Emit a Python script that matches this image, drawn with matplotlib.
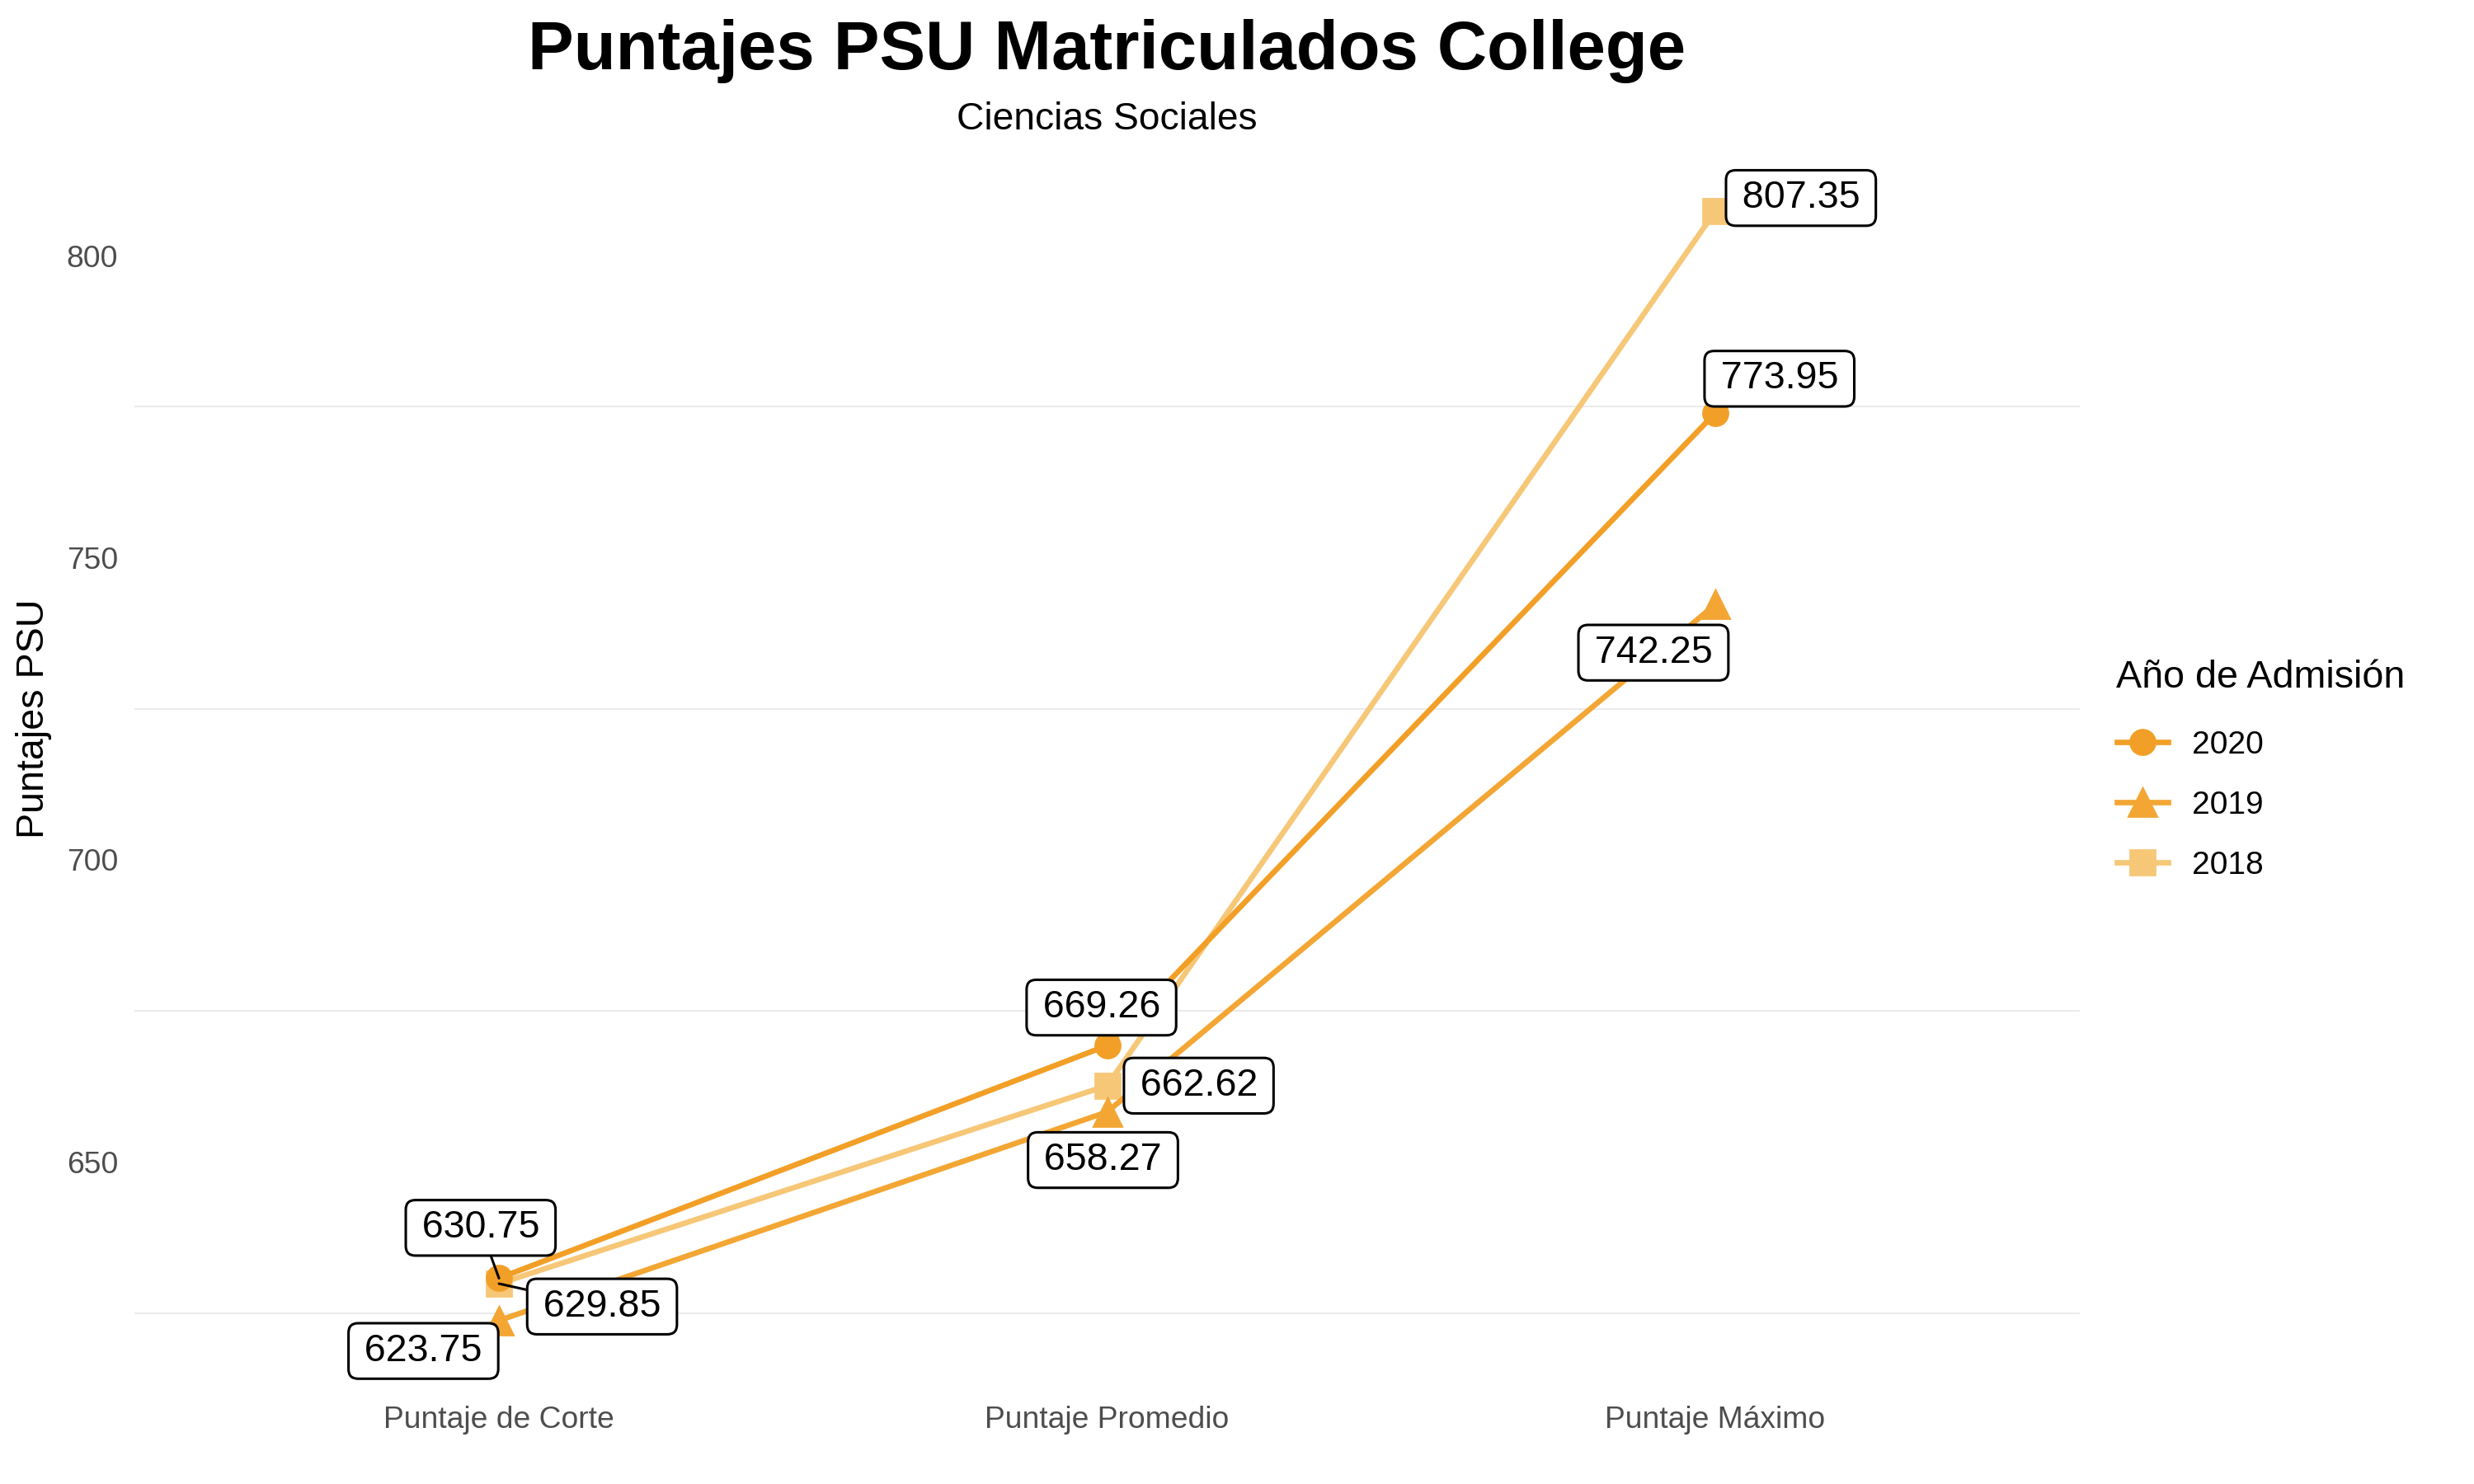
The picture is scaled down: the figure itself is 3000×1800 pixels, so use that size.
import matplotlib.pyplot as plt
import numpy as np

plt.rcParams['font.family'] = ['Liberation Sans', 'DejaVu Sans']

categorias = ["Puntaje de Corte", "Puntaje Promedio", "Puntaje Máximo"]
anios = ["2020", "2019", "2018"]
p2020 = [630.75, 669.26, 773.95]
p2019 = [623.75, 658.27, 742.25]
p2018 = [629.85, 662.62, 807.35]

colores = {"2020": "#F29F27", "2019": "#F3A633", "2018": "#F6C777"}
marcadores = {"2020": "o", "2019": "^", "2018": "s"}
tamanos = {"2020": 10.8, "2019": 12.5, "2018": 10.8}

# label offsets (points) imitating the repel layout
offsets = {
    "2020": [(-8, 22), (-2.5, 16.6), (28, 15)],
    "2019": [(-33, -13.3), (-1.8, -21), (-27, -21)],
    "2018": [(45, -10), (40, 0), (37.4, 5.8)],
}
con_linea = {("2020", 0), ("2018", 0)}

fig = plt.figure(figsize=(15, 9), dpi=200)
ax = fig.add_axes([0.0542, 0.0728, 0.7866, 0.8222])

x = np.arange(len(categorias))
series = {"2020": p2020, "2019": p2019, "2018": p2018}

for a in ["2018", "2019", "2020"]:
    ax.plot(x, series[a], color=colores[a], lw=2.4, marker=marcadores[a],
            ms=tamanos[a], label=a, zorder=3 if a != "2018" else 2.5)

for a in anios:
    for i, v in enumerate(series[a]):
        dx, dy = offsets[a][i]
        props = None
        if (a, i) in con_linea:
            props = dict(arrowstyle='-', color='black', lw=1.1, shrinkA=0, shrinkB=0)
        ax.annotate("\u2006%.2f\u2006" % v, xy=(x[i], v), xytext=(dx, dy),
                    textcoords='offset points', ha='center', va='center',
                    fontsize=16.8, color='black', zorder=5,
                    bbox=dict(boxstyle='round,pad=0.25,rounding_size=0.25',
                              fc='white', ec='black', lw=1.1),
                    arrowprops=props)

ymin, ymax = 623.75, 807.35
rango = ymax - ymin
ax.set_ylim(ymin - 0.05 * rango, ymax + 0.05 * rango)
ax.set_xlim(-0.6, 2.6)
ax.set_xticks(x)
ax.set_xticklabels(categorias)
ax.set_yticks([650, 700, 750, 800])
ax.set_yticks([625, 675, 725, 775], minor=True)
ax.grid(False)
ax.grid(which='minor', axis='y', color='#EBEBEB', lw=0.75)
ax.tick_params(axis='both', which='both', length=0, labelsize=13.4, labelcolor='#4D4D4D')
ax.tick_params(axis='x', pad=13)
ax.tick_params(axis='y', pad=7)
for s in ax.spines.values():
    s.set_visible(False)

fig.text(0.0137, 0.5155, "Puntajes PSU", rotation=90, ha='center', va='center', fontsize=16.8)
fig.text(0.4473, 1 - 84 / 1800, "Puntajes PSU Matriculados College", ha='center',
         va='baseline', fontsize=30, fontweight='bold')
fig.text(0.4473, 1 - 157 / 1800, "Ciencias Sociales", ha='center', va='baseline', fontsize=16.6)

h, l = ax.get_legend_handles_labels()
orden = [l.index(a) for a in anios]
leg = fig.legend([h[k] for k in orden], [l[k] for k in orden], title="Año de Admisión",
                 loc='upper left', bbox_to_anchor=(0.8555, 0.5555), frameon=False,
                 fontsize=14, title_fontsize=16.8, handlelength=1.6,
                 handletextpad=0.75, labelspacing=0.95, borderpad=0, borderaxespad=0,
                 alignment='left')
leg._legend_box.sep = 15

fig.savefig("out.png", dpi=200)
